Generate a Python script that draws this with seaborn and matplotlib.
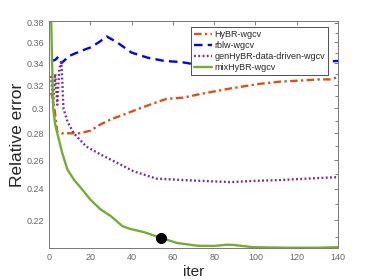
import numpy as np
import pandas as pd
import matplotlib
matplotlib.use("Agg")
import matplotlib.pyplot as plt
import matplotlib.ticker as ticker
import seaborn as sns

# values
hybr_iter = [1, 2, 3, 4, 6, 10, 15, 20, 25, 30, 38, 44, 52, 57, 65, 73, 88, 102, 112, 122, 131, 136, 140]
hybr_err = [0.313, 0.308, 0.295, 0.281, 0.280, 0.280, 0.280, 0.282, 0.287, 0.291, 0.296, 0.300,
            0.305, 0.308, 0.309, 0.312, 0.317, 0.321, 0.323, 0.324, 0.325, 0.325, 0.327]

rblw_iter = [1, 3, 4.5, 6, 10, 16, 20, 24, 28, 33, 40, 48, 56, 64, 70, 80, 90, 100, 110, 120, 130, 140]
rblw_err = [0.342, 0.343, 0.346, 0.340, 0.347, 0.352, 0.355, 0.360, 0.366, 0.360, 0.350, 0.345,
            0.342, 0.341, 0.339, 0.338, 0.338, 0.339, 0.340, 0.340, 0.341, 0.342]

gen_iter = [1, 2, 3, 4, 5, 6, 7, 9, 12, 18, 25, 33, 41, 52, 65, 73, 88, 100, 112, 125, 140]
gen_err = [0.328, 0.305, 0.330, 0.303, 0.335, 0.341, 0.300, 0.289, 0.280, 0.270, 0.264, 0.258,
           0.252, 0.247, 0.246, 0.2455, 0.2446, 0.2455, 0.246, 0.247, 0.248]

mix_iter = [1, 2, 3, 4, 6.4, 8.9, 12, 15.4, 20, 25, 30, 35.5, 39, 46, 54, 62, 72, 80, 86, 89,
            99, 115, 130, 140]
mix_err = [0.39, 0.300, 0.287, 0.2803, 0.2652, 0.2533, 0.2464, 0.2408, 0.2331, 0.2268, 0.2226,
           0.2166, 0.2150, 0.2130, 0.2097, 0.2067, 0.2051, 0.2050, 0.2057, 0.2056, 0.2043,
           0.2040, 0.2040, 0.2043]

stop_iter = [54]
stop_err = [0.2097]

y_ticks = [0.22, 0.24, 0.26, 0.28, 0.30, 0.32, 0.34, 0.36, 0.38]
y_labels = ['0.22', '0.24', '0.26', '0.28', '0.3', '0.32', '0.34', '0.36', '0.38']

sns.set_style("white")
plt.rcParams['font.family'] = ['Liberation Sans', 'DejaVu Sans']

fig = plt.figure(figsize=(3.74, 2.8), dpi=100)
ax = fig.add_axes([0.131, 0.114, 0.773, 0.811])

series = [
    (hybr_iter, hybr_err, 'HyBR-wgcv', '#D95319', (3.2, 1.4, 1.0, 1.4)),
    (rblw_iter, rblw_err, 'rblw-wgcv', '#0000FF', (3.6, 2.2)),
    (gen_iter, gen_err, 'genHyBR-data-driven-wgcv', '#7E2F8E', (0.8, 1.0)),
    (mix_iter, mix_err, 'mixHyBR-wgcv', '#77AC30', ''),
]
for xs, ys, name, color, dash in series:
    df = pd.DataFrame({'iter': xs, 'err': ys})
    sns.lineplot(data=df, x='iter', y='err', ax=ax, color=color, lw=1.7, label=name)
    if dash:
        ax.lines[-1].set_dashes(dash)

ax.plot(stop_iter, stop_err, 'o', color='black', ms=7, zorder=5)

ax.set_yscale('log')
ax.set_xlim(0, 140)
ax.set_ylim(0.2038, 0.382)
ax.yaxis.set_major_locator(ticker.FixedLocator(y_ticks))
ax.yaxis.set_major_formatter(ticker.FixedFormatter(y_labels))
ax.yaxis.set_minor_locator(ticker.FixedLocator([0.21, 0.23, 0.25, 0.27, 0.29, 0.31, 0.33, 0.35, 0.37]))
ax.yaxis.set_minor_formatter(ticker.NullFormatter())
ax.set_xticks([0, 20, 40, 60, 80, 100, 120, 140])

ax.tick_params(which='both', direction='in', top=True, right=True, colors='#666666',
               labelsize=6.5, width=0.6)
ax.tick_params(which='major', length=3)
ax.tick_params(which='minor', length=2)
for sp in ax.spines.values():
    sp.set_color('#777777')
    sp.set_linewidth(0.7)

ax.set_xlabel('iter', fontsize=11, labelpad=2)
ax.set_ylabel('Relative error', fontsize=12.5, labelpad=1)

leg = ax.legend(loc='upper right', bbox_to_anchor=(328 / 374, 253 / 280),
                bbox_transform=fig.transFigure, fontsize=6.5, frameon=True, fancybox=False,
                edgecolor='#333333', framealpha=1, borderaxespad=0,
                handlelength=2.0, labelspacing=0.25, borderpad=0.3, handletextpad=0.3)
leg.get_frame().set_linewidth(0.6)

fig.savefig('out.png', dpi=100)
